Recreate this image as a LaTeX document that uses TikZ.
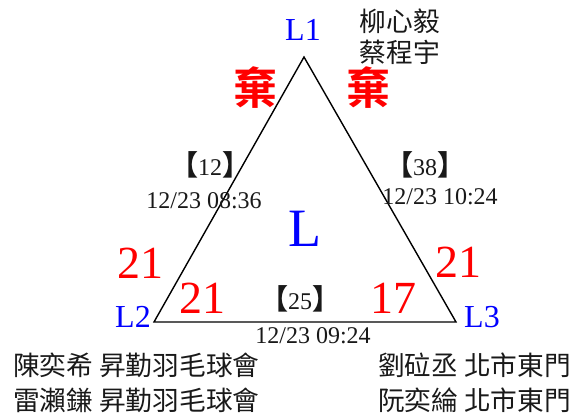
\documentclass[tikz,border=0pt]{standalone}
\usepackage{fontspec}
\setmainfont{Liberation Serif}
\newfontfamily\cjk{Noto Sans CJK TC}
\newfontfamily\cjkb{Noto Sans CJK TC}[BoldFont={* Bold}]
\newcommand{\bk}[1]{{\cjk\bfseries\fontsize{28}{30}\selectfont 【}#1{\cjk\bfseries\fontsize{28}{30}\selectfont 】}}
\begin{document}
\begin{tikzpicture}[x=1pt,y=-1pt,
  lbl/.style={text=blue,font=\fontsize{32}{34}\selectfont,inner sep=0pt},
  num/.style={text=red,font=\fontsize{46}{48}\selectfont,inner sep=0pt},
  qi/.style={text=red,font=\cjkb\bfseries\fontsize{44}{46}\selectfont,inner sep=0pt},
  nm/.style={text=black!90,font=\cjk\fontsize{26.7}{28}\selectfont,inner sep=0pt},
  tm/.style={text=black!90,font=\fontsize{24}{26}\selectfont,inner sep=0pt},
  br/.style={text=black!90,font=\fontsize{24}{26}\selectfont,inner sep=0pt},
  edge/.style={draw=black,line width=1.4pt,line join=miter}]
\useasboundingbox[fill=white] (0,0) rectangle (584,416);
\coordinate (A) at (304,57);
\coordinate (B) at (154,322);
\coordinate (C) at (456,322);
\draw[edge] (A) -- (B) -- (C) -- cycle;
\node[lbl] (l1) at (303,30) {L1};
\node[lbl] (l2) at (133,317) {L2};
\node[lbl] (l3) at (482,317) {L3};
\node[text=blue,font=\fontsize{54}{56}\selectfont,inner sep=0pt] (lc) at (305,229) {L};
\node[nm] (p1) at (400,21) {柳心毅};
\node[nm] (p2) at (400,52) {蔡程宇};
\node[qi] (q1) at (255,88) {棄};
\node[qi] (q2) at (368,88) {棄};
\node[br] (b12) at (210,165) {\bk{12}};
\node[tm] (t12) at (204,201) {12/23 08:36};
\node[br] (b38) at (425,165) {\bk{38}};
\node[tm] (t38) at (440,197) {12/23 10:24};
\node[br] (b25) at (300,299) {\bk{25}};
\node[tm] (t25) at (313,336) {12/23 09:24};
\node[num] (s1) at (140,263) {21};
\node[num] (s2) at (458,262) {21};
\node[num] (s3) at (202,298) {21};
\node[num] (s4) at (393,298) {17};
\node[nm,anchor=west] (n1) at (13,365) {陳奕希 昇勤羽毛球會};
\node[nm,anchor=west] (n2) at (13,400) {雷瀨鎌 昇勤羽毛球會};
\node[nm,anchor=west] (n3) at (378,365) {劉砬丞 北市東門};
\node[nm,anchor=west] (n4) at (378,400) {阮奕綸 北市東門};
\end{tikzpicture}
\end{document}
